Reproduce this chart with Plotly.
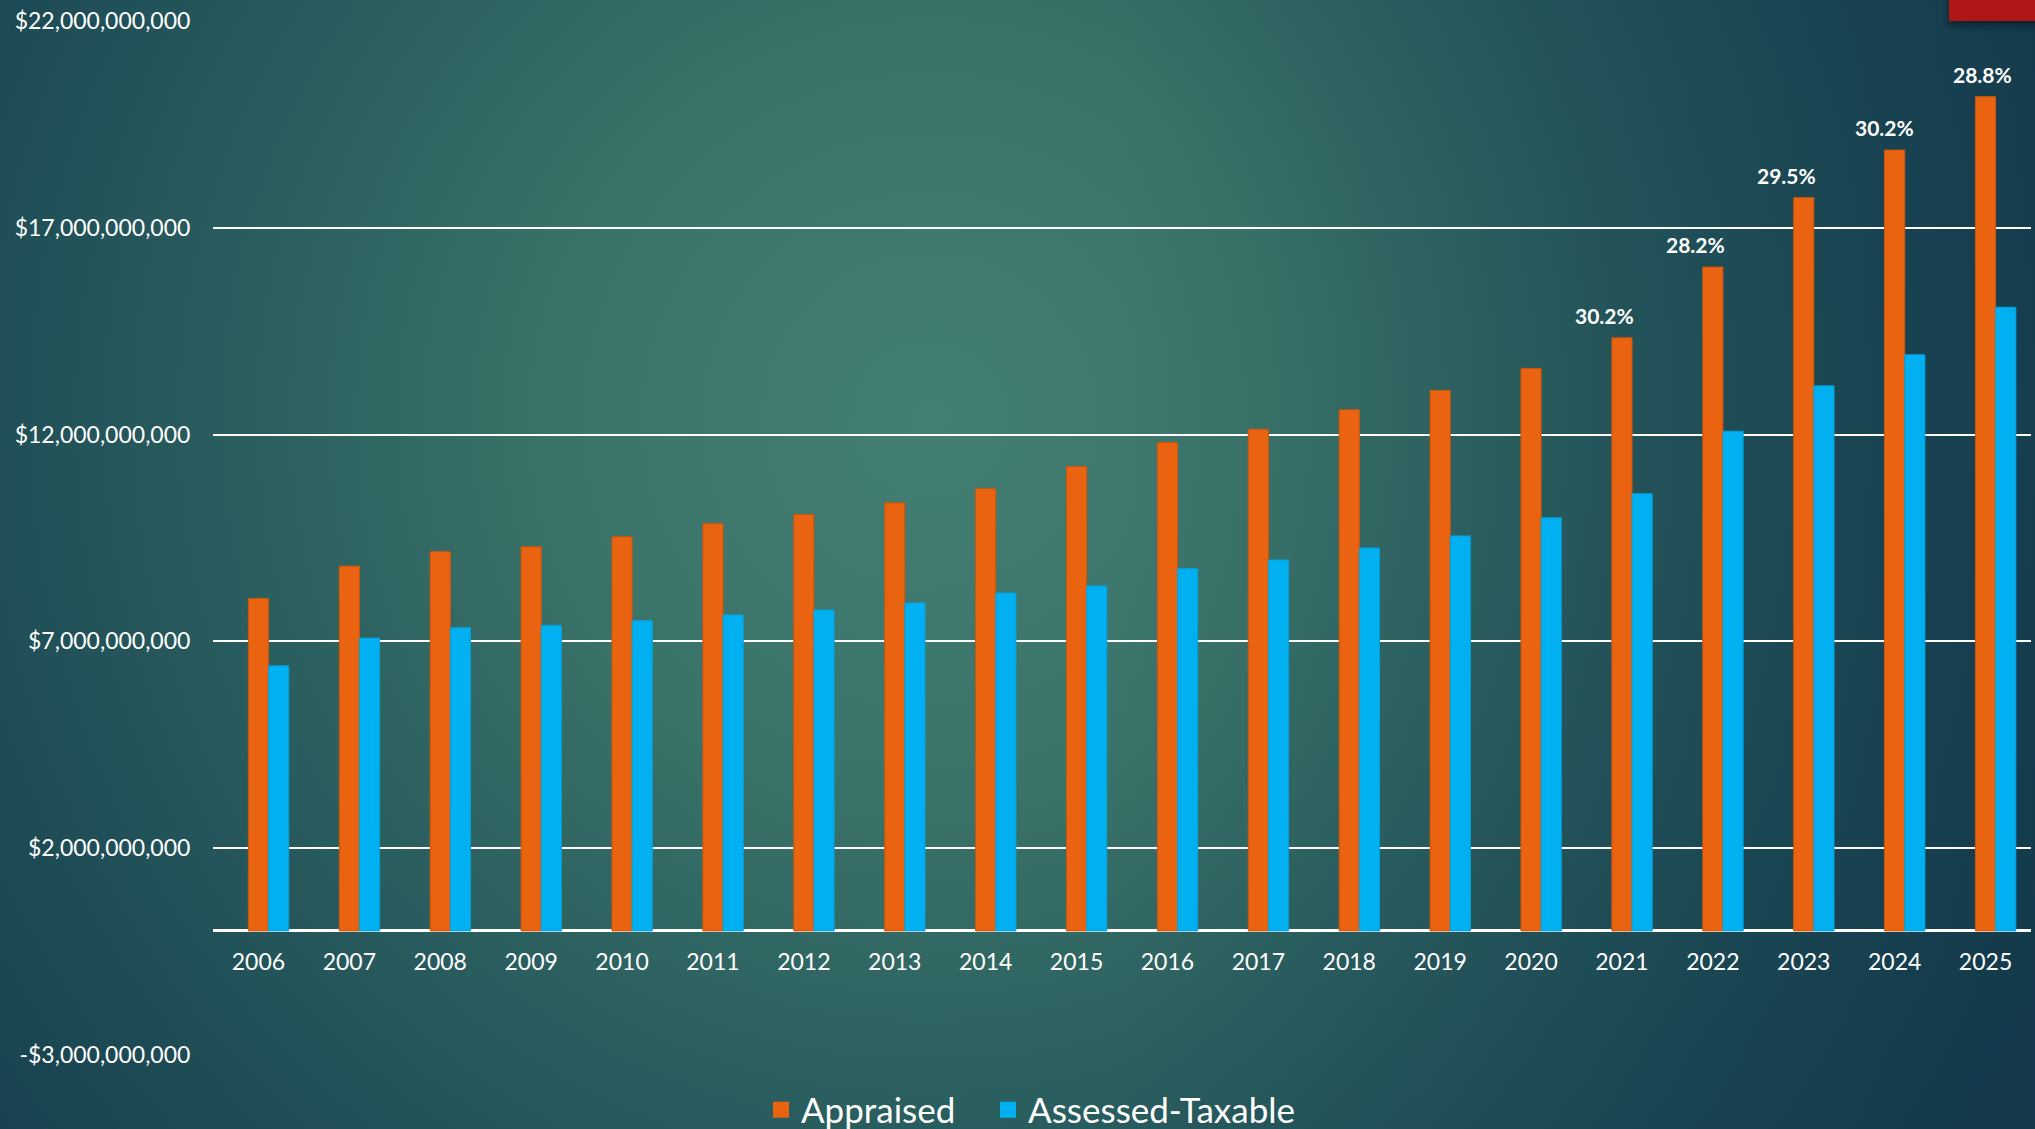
import base64
import plotly.graph_objects as go

years = [str(y) for y in range(2006, 2026)]
appraised = [8.04, 8.82, 9.17, 9.29, 9.53, 9.85, 10.07, 10.35, 10.69, 11.23,
             11.81, 12.13, 12.60, 13.07, 13.60, 14.34, 16.05, 17.73, 18.88, 20.17]
assessed = [6.41, 7.08, 7.33, 7.39, 7.50, 7.64, 7.76, 7.93, 8.17, 8.34,
            8.76, 8.97, 9.26, 9.55, 9.99, 10.57, 12.08, 13.18, 13.93, 15.08]
appraised = [v * 1e9 for v in appraised]
assessed = [v * 1e9 for v in assessed]

label_years = ["2021", "2022", "2023", "2024", "2025"]
label_texts = ["30.2%", "28.2%", "29.5%", "30.2%", "28.8%"]

y_tickvals = [-3e9, 2e9, 7e9, 12e9, 17e9, 22e9]
y_ticktext = [("-$" if v < 0 else "$") + f"{abs(int(v)):,}" for v in y_tickvals]

W, H = 2035, 1129
ML, MR, MT, MB = 213, 4, 21, 74
PW, PH = W - ML - MR, H - MT - MB
FONT = "Lato"
ORANGE = "#E96310"
BLUE = "#00B0F0"

svg = f"""<svg xmlns='http://www.w3.org/2000/svg' width='{W}' height='{H}' viewBox='0 0 {W} {H}' preserveAspectRatio='none'>
<defs>
<radialGradient id='g' cx='930' cy='420' r='1250' gradientUnits='userSpaceOnUse'>
<stop offset='0' stop-color='#447f74'/>
<stop offset='0.3' stop-color='#3a7369'/>
<stop offset='0.55' stop-color='#2a5e5f'/>
<stop offset='0.8' stop-color='#1d4b55'/>
<stop offset='1' stop-color='#163e4d'/>
</radialGradient>
<linearGradient id='d' x1='0' y1='0' x2='1' y2='0'>
<stop offset='0.55' stop-color='#10344a' stop-opacity='0'/>
<stop offset='1' stop-color='#10344a' stop-opacity='0.45'/>
</linearGradient>
<filter id='s' x='-20%' y='-50%' width='140%' height='250%'>
<feDropShadow dx='0' dy='4' stdDeviation='4' flood-color='#000' flood-opacity='0.5'/>
</filter>
</defs>
<rect width='{W}' height='{H}' fill='url(#g)'/>
<rect width='{W}' height='{H}' fill='url(#d)'/>
<rect x='1949' y='-10' width='100' height='31' fill='#B01515' filter='url(#s)'/>
</svg>"""
bg_src = "data:image/svg+xml;base64," + base64.b64encode(svg.encode()).decode()

fig = go.Figure()
bw = 0.222
fig.add_trace(go.Bar(name="Appraised", x=years, y=appraised, marker_color=ORANGE,
                     marker_line=dict(color="#C9560E", width=1),
                     width=bw, offset=-bw / 2, showlegend=False, legendgroup="a"))
fig.add_trace(go.Bar(name="Assessed-Taxable", x=years, y=assessed, marker_color=BLUE,
                     marker_line=dict(color="#0A9FD6", width=1),
                     width=bw, offset=bw / 2, showlegend=False, legendgroup="b"))
# legend entries with larger square swatches
fig.add_trace(go.Scatter(name="Appraised", x=[None], y=[None], mode="markers",
                         marker=dict(symbol="square", size=16, color=ORANGE),
                         legendgroup="a", legend="legend"))
fig.add_trace(go.Scatter(name="Assessed-Taxable", x=[None], y=[None], mode="markers",
                         marker=dict(symbol="square", size=16, color=BLUE),
                         legendgroup="b", legend="legend2"))

label_nudges = [-17, -17, -17, -10, -3]  # horizontal nudges of labels, in px
for yr, txt, dx in zip(label_years, label_texts, label_nudges):
    i = years.index(yr)
    fig.add_annotation(x=i, y=appraised[i], text="<b>" + txt + "</b>", showarrow=False,
                       xref="x", yref="y", yanchor="bottom", yshift=8, xshift=dx,
                       font=dict(family=FONT, size=21, color="white"))

ymin, ymax = -3e9, 22e9
leg_common = dict(orientation="h", xanchor="left", y=-(1110 - (MT + PH)) / PH,
                  yanchor="middle", font=dict(family=FONT, size=35, color="white"),
                  bgcolor="rgba(0,0,0,0)", itemclick=False, itemwidth=30)
fig.update_layout(
    width=W, height=H,
    margin=dict(l=ML, r=MR, t=MT, b=MB, autoexpand=False),
    paper_bgcolor="#1d4a54",
    plot_bgcolor="rgba(0,0,0,0)",
    barmode="overlay",
    font=dict(family=FONT, color="white", size=23),
    images=[dict(source=bg_src, xref="paper", yref="paper", x=-ML / PW, y=1 + MT / PH,
                 sizex=W / PW, sizey=H / PH, xanchor="left", yanchor="top",
                 sizing="stretch", layer="below")],
    legend=dict(x=(761 - ML) / PW, **leg_common),
    legend2=dict(x=(988 - ML) / PW, **leg_common),
    xaxis=dict(type="category", anchor="free", position=(0 - ymin) / (ymax - ymin),
               showline=False, showgrid=False, ticks="outside", ticklen=10,
               tickcolor="rgba(0,0,0,0)", range=[-0.5, 19.5],
               tickfont=dict(family=FONT, size=23, color="white"), fixedrange=True),
    yaxis=dict(range=[ymin, ymax], tickvals=y_tickvals, ticktext=y_ticktext,
               showgrid=True, gridcolor="white", gridwidth=2,
               zeroline=True, zerolinecolor="white", zerolinewidth=2.5,
               ticks="outside", ticklen=17, tickcolor="rgba(0,0,0,0)",
               tickfont=dict(family=FONT, size=23, color="white"), fixedrange=True),
)

fig.write_html("out.html", config={"displayModeBar": False},
               post_script="document.body.style.margin='0';document.body.style.overflow='hidden';")
